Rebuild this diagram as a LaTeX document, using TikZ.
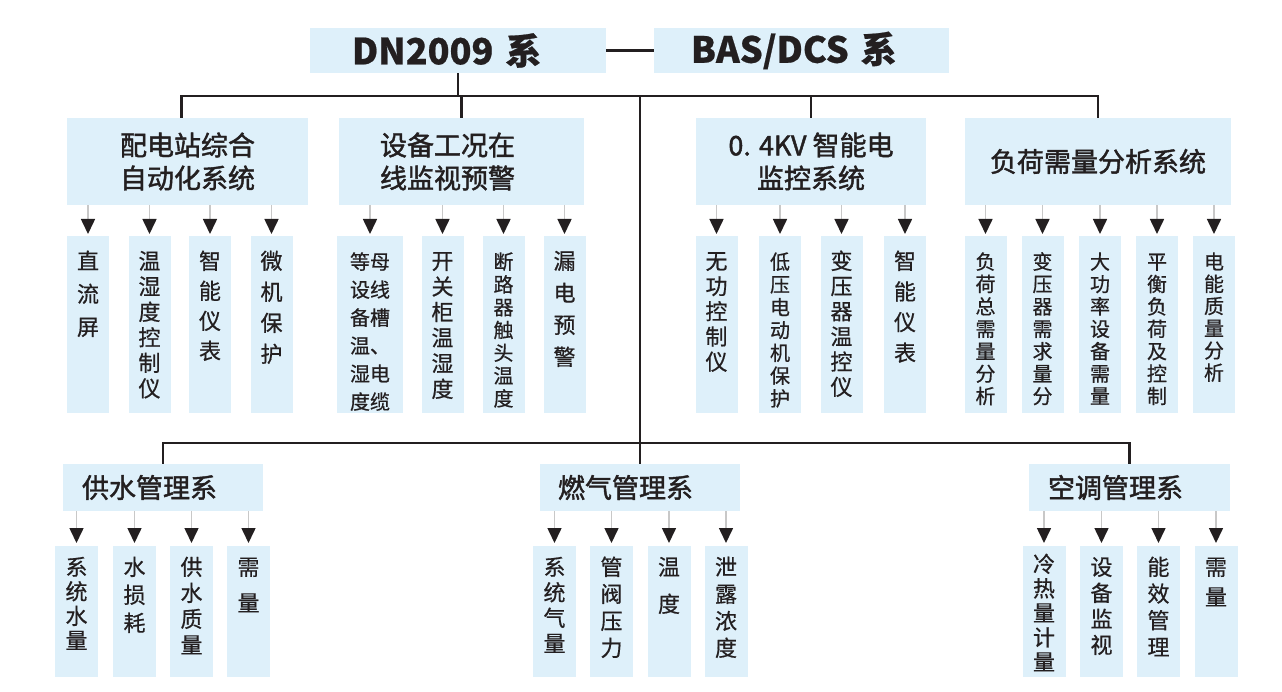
\documentclass[tikz,border=0pt]{standalone}
\usepackage{fontspec}
\newfontfamily\cjk{Noto Sans CJK SC}[FakeBold=0.6]
\newfontfamily\cjkm{Noto Sans CJK SC}[FakeBold=1.6]
\usetikzlibrary{arrows.meta}
\definecolor{boxblue}{RGB}{222,240,250}
\definecolor{ink}{RGB}{35,31,32}
\definecolor{shaft}{RGB}{200,200,200}

\begin{document}
\begin{tikzpicture}[x=1pt, y=-1pt,
box/.style={fill=boxblue, inner sep=0pt, text=ink},
title/.style={box, minimum height=45pt, align=left, font=\cjk\bfseries\fontsize{36}{40}\selectfont},
group/.style={box, minimum height=87pt, align=center, font=\cjkm\fontsize{27}{33}\selectfont},
sub/.style={box, minimum height=47pt, align=left, font=\cjkm\fontsize{27}{33}\selectfont},
leaf/.style={box, anchor=north, text width=42pt, align=center, text height=33pt, text depth=144pt, font=\cjk\fontsize{22}{#1}\selectfont},
leaf2/.style={leaf=#1, text height=29pt, text depth=102pt},
conn/.style={draw=ink, line width=2.6pt},
arr/.style={draw=shaft, line width=1.6pt, -{Triangle[length=15pt, width=14pt, color=ink]}}]
\useasboundingbox (0,0) rectangle (1282,692);

% top row
\node [title, minimum width=296pt, text width=212pt, inner xsep=42pt] (dn) at (458,50.5) {DN2009 系};
\node [title, minimum width=295pt, text width=221pt, inner xsep=37pt] (bas) at (801.5,50.5) {BAS/DCS 系};

% systems
\node [group, minimum width=241pt] (pdz) at (187.5,161.5) {配电站综合\\自动化系统};
\node [group, minimum width=245pt, text width=163pt, inner xsep=41pt, align=left] (sbgk) at (461.5,161.5) {设备工况在\\线监视预警};
\node [group, minimum width=230pt] (zndj) at (811,161.5) {0. 4KV 智能电\\监控系统};
\node [group, minimum width=266pt] (fhxl) at (1098,161.5) {负荷需量分析系统};

\node [sub, minimum width=200pt, text width=162pt, inner xsep=19pt] (gs) at (163,487.5) {供水管理系};
\node [sub, minimum width=200pt, text width=164pt, inner xsep=18pt] (rq) at (640,487.5) {燃气管理系};
\node [sub, minimum width=201pt, text width=163pt, inner xsep=19pt] (kt) at (1129.5,487.5) {空调管理系};

% leaves
\node [leaf=33] (a1) at (88,236) {直\\流\\屏};
\node [leaf=25.5] (a2) at (149.5,236) {温\\湿\\度\\控\\制\\仪};
\node [leaf=30] (a3) at (210,236) {智\\能\\仪\\表};
\node [leaf=31] (a4) at (271.5,236) {微\\机\\保\\护};

\node [leaf=28, text width=66pt, font=\cjk\fontsize{20}{28}\selectfont] (b1) at (370,236) {等母\\设线\\备槽\\温、\\湿电\\度缆};
\node [leaf=25.6] (b2) at (442.5,236) {开\\关\\柜\\温\\湿\\度};
\node [leaf=22.8, font=\cjk\fontsize{20}{22.8}\selectfont] (b3) at (503.5,236) {断\\路\\器\\触\\头\\温\\度};
\node [leaf=32] (b4) at (564.5,236) {漏\\电\\预\\警};

\node [leaf=25.2] (c1) at (716.5,236) {无\\功\\控\\制\\仪};
\node [leaf=22.8, font=\cjk\fontsize{20}{22.8}\selectfont] (c2) at (780,236) {低\\压\\电\\动\\机\\保\\护};
\node [leaf=25.2] (c3) at (841.5,236) {变\\压\\器\\温\\控\\仪};
\node [leaf=30.6] (c4) at (905,236) {智\\能\\仪\\表};

\node [leaf=22.4, font=\cjk\fontsize{20}{22.4}\selectfont] (d1) at (985.5,236) {负\\荷\\总\\需\\量\\分\\析};
\node [leaf=22.4, font=\cjk\fontsize{20}{22.4}\selectfont] (d2) at (1042.5,236) {变\\压\\器\\需\\求\\量\\分};
\node [leaf=22.4, font=\cjk\fontsize{20}{22.4}\selectfont] (d3) at (1100,236) {大\\功\\率\\设\\备\\需\\量};
\node [leaf=22.4, font=\cjk\fontsize{20}{22.4}\selectfont] (d4) at (1157,236) {平\\衡\\负\\荷\\及\\控\\制};
\node [leaf=22.2, font=\cjk\fontsize{20}{22.2}\selectfont] (d5) at (1214,236) {电\\能\\质\\量\\分\\析};

\node [leaf2=24.5, text width=43pt] (e1) at (76.5,546) {系\\统\\水\\量};
\node [leaf2=28, text width=43pt] (e2) at (134.5,546) {水\\损\\耗};
\node [leaf2=26, text width=43pt] (e3) at (191.5,546) {供\\水\\质\\量};
\node [leaf2=36, text width=43pt] (e4) at (248.5,546) {需\\量};

\node [leaf2=25.5, text width=43pt] (f1) at (554.5,546) {系\\统\\气\\量};
\node [leaf2=27, text width=43pt] (f2) at (611.5,546) {管\\阀\\压\\力};
\node [leaf2=37, text width=43pt] (f3) at (669,546) {温\\度};
\node [leaf2=27, text width=43pt] (f4) at (726,546) {泄\\露\\浓\\度};

\node [leaf2=24.5, text width=43pt, text height=26pt, text depth=105pt] (g1) at (1044,546) {冷\\热\\量\\计\\量};
\node [leaf2=26, text width=43pt] (g2) at (1101.5,546) {设\\备\\监\\视};
\node [leaf2=26.7, text width=43pt] (g3) at (1158.5,546) {能\\效\\管\\理};
\node [leaf2=30, text width=43pt] (g4) at (1216,546) {需\\量};

% trunk lines
\coordinate (top) at (640,96);
\coordinate (mid) at (640,443);
\draw [conn] (dn.east) -- (bas.west);
\draw [conn] (dn.south) -- (dn.south |- top);
\draw [conn] ([xshift=-6pt]pdz.north) -- ([xshift=-6pt]pdz.north |- top) -| (fhxl.north);
\draw [conn] (sbgk.north) -- (sbgk.north |- top);
\draw [conn] (zndj.north) -- (zndj.north |- top);
\draw [conn] (top) -- (rq.north);
\draw [conn] (gs.north) -- (gs.north |- mid) -| (kt.north);

% arrows
\draw [arr] (a1.north |- pdz.south) -- ([yshift=2pt]a1.north);
\draw [arr] (a2.north |- pdz.south) -- ([yshift=2pt]a2.north);
\draw [arr] (a3.north |- pdz.south) -- ([yshift=2pt]a3.north);
\draw [arr] (a4.north |- pdz.south) -- ([yshift=2pt]a4.north);
\draw [arr] (b1.north |- sbgk.south) -- ([yshift=2pt]b1.north);
\draw [arr] (b2.north |- sbgk.south) -- ([yshift=2pt]b2.north);
\draw [arr] (b3.north |- sbgk.south) -- ([yshift=2pt]b3.north);
\draw [arr] (b4.north |- sbgk.south) -- ([yshift=2pt]b4.north);
\draw [arr] (c1.north |- zndj.south) -- ([yshift=2pt]c1.north);
\draw [arr] (c2.north |- zndj.south) -- ([yshift=2pt]c2.north);
\draw [arr] (c3.north |- zndj.south) -- ([yshift=2pt]c3.north);
\draw [arr] (c4.north |- zndj.south) -- ([yshift=2pt]c4.north);
\draw [arr] (d1.north |- fhxl.south) -- ([yshift=2pt]d1.north);
\draw [arr] (d2.north |- fhxl.south) -- ([yshift=2pt]d2.north);
\draw [arr] (d3.north |- fhxl.south) -- ([yshift=2pt]d3.north);
\draw [arr] (d4.north |- fhxl.south) -- ([yshift=2pt]d4.north);
\draw [arr] (d5.north |- fhxl.south) -- ([yshift=2pt]d5.north);
\draw [arr] (e1.north |- gs.south) -- ([yshift=3pt]e1.north);
\draw [arr] (e2.north |- gs.south) -- ([yshift=3pt]e2.north);
\draw [arr] (e3.north |- gs.south) -- ([yshift=3pt]e3.north);
\draw [arr] (e4.north |- gs.south) -- ([yshift=3pt]e4.north);
\draw [arr] (f1.north |- rq.south) -- ([yshift=3pt]f1.north);
\draw [arr] (f2.north |- rq.south) -- ([yshift=3pt]f2.north);
\draw [arr] (f3.north |- rq.south) -- ([yshift=3pt]f3.north);
\draw [arr] (f4.north |- rq.south) -- ([yshift=3pt]f4.north);
\draw [arr] (g1.north |- kt.south) -- ([yshift=3pt]g1.north);
\draw [arr] (g2.north |- kt.south) -- ([yshift=3pt]g2.north);
\draw [arr] (g3.north |- kt.south) -- ([yshift=3pt]g3.north);
\draw [arr] (g4.north |- kt.south) -- ([yshift=3pt]g4.north);
\end{tikzpicture}
\end{document}
